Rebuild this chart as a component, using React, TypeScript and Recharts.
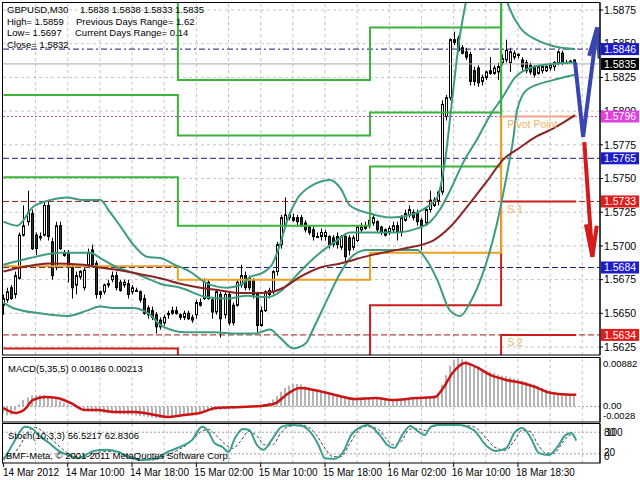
import React from 'react';
import { ComposedChart, Line, Bar, XAxis, YAxis, ReferenceLine, ReferenceDot } from 'recharts';

const FONT = '"Liberation Sans", Arial, sans-serif';

// ---------------- data ----------------
const timeLabels = ['14 Mar 2012', '14 Mar 10:00', '14 Mar 18:00', '15 Mar 02:00', '15 Mar 10:00', '15 Mar 18:00', '16 Mar 02:00', '16 Mar 10:00', '18 Mar 18:30'];
const timeLabelIdx = [0, 16, 32, 48, 64, 80, 96, 112, 128];
const gridIdx = [8, 16, 24, 32, 40, 48, 56, 64, 72, 80, 88, 96, 104, 112, 120, 128, 136, 144];
const priceTicks = [1.5625, 1.565, 1.5675, 1.57, 1.5725, 1.575, 1.5775, 1.58, 1.5825, 1.585, 1.5875];

const openP = [
  1.5656, 1.5660, 1.5669, 1.5664, 1.5676, 1.5708, 1.5718, 1.5724, 1.5708, 1.5706,
  1.5708, 1.5730, 1.5703, 1.5684, 1.5715, 1.5695, 1.5695, 1.5684, 1.5671, 1.5677,
  1.5669, 1.5686, 1.5697, 1.5687, 1.5664, 1.5666, 1.5671, 1.5675, 1.5678, 1.5673,
  1.5671, 1.5672, 1.5666, 1.5667, 1.5666, 1.5661, 1.5654, 1.5652, 1.5649, 1.5645,
  1.5643, 1.5649, 1.5652, 1.5650, 1.5649, 1.5647, 1.5650, 1.5647, 1.5649, 1.5656,
  1.5661, 1.5673, 1.5660, 1.5651, 1.5664, 1.5649, 1.5664, 1.5656, 1.5656, 1.5671,
  1.5678, 1.5676, 1.5675, 1.5664, 1.5641, 1.5652, 1.5664, 1.5666, 1.5681, 1.5701,
  1.5715, 1.5721, 1.5721, 1.5721, 1.5721, 1.5717, 1.5714, 1.5712, 1.5707, 1.5707,
  1.5707, 1.5707, 1.5706, 1.5707, 1.5699, 1.5707, 1.5706, 1.5699, 1.5704, 1.5712,
  1.5713, 1.5715, 1.5717, 1.5718, 1.5714, 1.5712, 1.5710, 1.5712, 1.5715, 1.5710,
  1.5719, 1.5723, 1.5725, 1.5724, 1.5719, 1.5717, 1.5727, 1.5730, 1.5733, 1.5740,
  1.5796, 1.5810, 1.5851, 1.5854, 1.5847, 1.5844, 1.5842, 1.5830, 1.5832, 1.5822,
  1.5825, 1.5828, 1.5828, 1.5829, 1.5836, 1.5838, 1.5836, 1.5840, 1.5842, 1.5838,
  1.5836, 1.5834, 1.5833, 1.5828, 1.5830, 1.5830, 1.5832, 1.5833, 1.5836, 1.5843,
  1.5836, 1.5837, 1.5838,
];
const highP = [
  1.5664, 1.5669, 1.5671, 1.5681, 1.5710, 1.5730, 1.5741, 1.5727, 1.5710, 1.5710,
  1.5733, 1.5734, 1.5706, 1.5718, 1.5718, 1.5697, 1.5697, 1.5686, 1.5681, 1.5682,
  1.5684, 1.5698, 1.5701, 1.5689, 1.5667, 1.5672, 1.5675, 1.5681, 1.5681, 1.5675,
  1.5675, 1.5675, 1.5671, 1.5669, 1.5667, 1.5664, 1.5656, 1.5655, 1.5651, 1.5647,
  1.5649, 1.5652, 1.5655, 1.5655, 1.5650, 1.5652, 1.5652, 1.5649, 1.5660, 1.5661,
  1.5676, 1.5675, 1.5661, 1.5667, 1.5666, 1.5666, 1.5666, 1.5658, 1.5675, 1.5686,
  1.5681, 1.5678, 1.5676, 1.5666, 1.5655, 1.5667, 1.5669, 1.5682, 1.5703, 1.5723,
  1.5736, 1.5725, 1.5724, 1.5723, 1.5723, 1.5719, 1.5715, 1.5714, 1.5710, 1.5713,
  1.5712, 1.5708, 1.5708, 1.5710, 1.5708, 1.5708, 1.5708, 1.5708, 1.5715, 1.5717,
  1.5718, 1.5721, 1.5723, 1.5719, 1.5715, 1.5713, 1.5715, 1.5718, 1.5718, 1.5723,
  1.5727, 1.5730, 1.5727, 1.5727, 1.5721, 1.5729, 1.5741, 1.5736, 1.5741, 1.5808,
  1.5812, 1.5854, 1.5859, 1.5856, 1.5849, 1.5847, 1.5844, 1.5833, 1.5834, 1.5827,
  1.5830, 1.5840, 1.5834, 1.5836, 1.5842, 1.5853, 1.5847, 1.5845, 1.5843, 1.5840,
  1.5838, 1.5836, 1.5834, 1.5834, 1.5834, 1.5834, 1.5836, 1.5837, 1.5845, 1.5845,
  1.5838, 1.5838, 1.5838,
];
const lowP = [
  1.5649, 1.5658, 1.5660, 1.5661, 1.5675, 1.5707, 1.5715, 1.5697, 1.5693, 1.5704,
  1.5707, 1.5704, 1.5675, 1.5682, 1.5697, 1.5692, 1.5673, 1.5661, 1.5664, 1.5675,
  1.5667, 1.5684, 1.5684, 1.5661, 1.5661, 1.5664, 1.5669, 1.5673, 1.5667, 1.5666,
  1.5669, 1.5661, 1.5664, 1.5666, 1.5658, 1.5649, 1.5646, 1.5645, 1.5635, 1.5638,
  1.5641, 1.5646, 1.5649, 1.5649, 1.5645, 1.5645, 1.5645, 1.5643, 1.5646, 1.5655,
  1.5660, 1.5660, 1.5646, 1.5649, 1.5632, 1.5646, 1.5641, 1.5641, 1.5655, 1.5669,
  1.5667, 1.5667, 1.5661, 1.5636, 1.5640, 1.5651, 1.5661, 1.5664, 1.5678, 1.5698,
  1.5714, 1.5719, 1.5718, 1.5715, 1.5714, 1.5710, 1.5708, 1.5704, 1.5706, 1.5704,
  1.5704, 1.5698, 1.5699, 1.5698, 1.5697, 1.5688, 1.5693, 1.5697, 1.5703, 1.5710,
  1.5712, 1.5713, 1.5715, 1.5710, 1.5708, 1.5707, 1.5708, 1.5710, 1.5704, 1.5707,
  1.5718, 1.5721, 1.5719, 1.5715, 1.5697, 1.5715, 1.5725, 1.5729, 1.5730, 1.5738,
  1.5793, 1.5808, 1.5849, 1.5844, 1.5842, 1.5838, 1.5819, 1.5819, 1.5818, 1.5819,
  1.5823, 1.5827, 1.5827, 1.5823, 1.5834, 1.5836, 1.5829, 1.5838, 1.5839, 1.5830,
  1.5828, 1.5827, 1.5825, 1.5827, 1.5828, 1.5829, 1.5830, 1.5830, 1.5834, 1.5834,
  1.5835, 1.5836, 1.5833,
];
const closeP = [
  1.5661, 1.5666, 1.5661, 1.5678, 1.5708, 1.5715, 1.5725, 1.5698, 1.5698, 1.5707,
  1.5730, 1.5707, 1.5678, 1.5715, 1.5698, 1.5693, 1.5684, 1.5669, 1.5678, 1.5681,
  1.5682, 1.5695, 1.5686, 1.5664, 1.5666, 1.5671, 1.5672, 1.5678, 1.5669, 1.5667,
  1.5673, 1.5664, 1.5669, 1.5667, 1.5660, 1.5650, 1.5649, 1.5647, 1.5640, 1.5640,
  1.5647, 1.5650, 1.5650, 1.5652, 1.5647, 1.5650, 1.5646, 1.5645, 1.5658, 1.5658,
  1.5673, 1.5661, 1.5651, 1.5666, 1.5646, 1.5664, 1.5643, 1.5643, 1.5673, 1.5678,
  1.5669, 1.5669, 1.5664, 1.5641, 1.5652, 1.5666, 1.5667, 1.5681, 1.5701, 1.5721,
  1.5723, 1.5723, 1.5719, 1.5718, 1.5715, 1.5712, 1.5710, 1.5707, 1.5707, 1.5710,
  1.5710, 1.5701, 1.5701, 1.5701, 1.5707, 1.5692, 1.5697, 1.5706, 1.5714, 1.5714,
  1.5715, 1.5719, 1.5721, 1.5712, 1.5710, 1.5708, 1.5713, 1.5715, 1.5710, 1.5721,
  1.5724, 1.5727, 1.5721, 1.5718, 1.5715, 1.5727, 1.5734, 1.5734, 1.5740, 1.5805,
  1.5810, 1.5853, 1.5853, 1.5845, 1.5843, 1.5840, 1.5822, 1.5822, 1.5821, 1.5825,
  1.5829, 1.5830, 1.5832, 1.5833, 1.5839, 1.5845, 1.5844, 1.5843, 1.5842, 1.5833,
  1.5830, 1.5829, 1.5827, 1.5833, 1.5833, 1.5833, 1.5834, 1.5836, 1.5844, 1.5836,
  1.5836, 1.5837, 1.5835,
];

// Bollinger bands (20,2) and moving average, read as [bar index, price]
const bbUpper: [number, number][] = [
  [0, 1.5718], [3.4, 1.5715], [7.4, 1.5729], [11.6, 1.5734], [15.8, 1.5736], [19.8, 1.5734], [24.1, 1.5734],
  [26.5, 1.5725], [29.0, 1.5715], [32.3, 1.5701], [35.7, 1.5692], [39.0, 1.5691], [42.7, 1.5686], [46.4, 1.5681],
  [50.7, 1.5672], [55.6, 1.5669], [58.9, 1.5671], [61.4, 1.5677], [64.4, 1.5680], [66.8, 1.5686], [68.8, 1.5701],
  [70.6, 1.5719], [73.1, 1.5735], [76.3, 1.5744], [81.3, 1.5749], [83.8, 1.5743], [86.2, 1.5730], [91.2, 1.5724],
  [96.2, 1.5721], [101.2, 1.5723], [105.4, 1.5729], [107.9, 1.5736], [109.9, 1.5764], [111.6, 1.5808],
  [113.4, 1.5853], [115.1, 1.5882], [118.6, 1.5942], [122.3, 1.5912], [124.8, 1.5886], [125.8, 1.5877],
  [128.5, 1.5862], [132.5, 1.5853], [137.2, 1.5848], [142.2, 1.5846],
];
const bbMiddle: [number, number][] = [
  [0, 1.5686], [6.6, 1.5691], [14.1, 1.5695], [21.6, 1.5695], [24.1, 1.5691], [28.3, 1.5684], [32.3, 1.5680],
  [36.5, 1.5675], [39.0, 1.5672], [44.0, 1.5669], [50.7, 1.5662], [55.6, 1.5661], [60.6, 1.5663], [65.6, 1.5662],
  [68.8, 1.5666], [71.3, 1.5673], [73.8, 1.5681], [78.8, 1.5695], [82.5, 1.5703], [86.2, 1.5710], [91.2, 1.5710],
  [97.9, 1.5710], [102.9, 1.5713], [106.2, 1.5718], [108.6, 1.5727], [111.1, 1.5741], [114.4, 1.5762],
  [117.8, 1.5779], [121.1, 1.5797], [124.1, 1.5810], [127.3, 1.5825], [131.0, 1.5832], [136.7, 1.5835], [142.2, 1.5836],
];
const bbLower: [number, number][] = [
  [0, 1.5658], [2.4, 1.5654], [9.1, 1.5650], [15.8, 1.5648], [20.8, 1.5652], [24.1, 1.5655], [27.3, 1.5654],
  [32.3, 1.5654], [36.5, 1.5649], [39.2, 1.5641], [45.0, 1.5636], [52.4, 1.5636], [58.1, 1.5635], [62.6, 1.5635],
  [66.3, 1.5638], [68.8, 1.5632], [72.1, 1.5624], [75.3, 1.5628], [77.0, 1.5638], [80.5, 1.5660], [83.8, 1.5680],
  [87.0, 1.5693], [90.5, 1.5697], [96.2, 1.5697], [102.9, 1.5697], [105.4, 1.5689], [107.9, 1.5675],
  [111.1, 1.5652], [113.6, 1.5648], [116.1, 1.5658], [119.3, 1.5680], [122.8, 1.5717], [125.3, 1.5754],
  [126.8, 1.5779], [127.8, 1.5801], [130.3, 1.5816], [136.7, 1.5823], [142.2, 1.5827],
];
const maLine: [number, number][] = [
  [0, 1.5681], [4.2, 1.5684], [11.6, 1.5687], [19.9, 1.5686], [24, 1.5684], [29, 1.5682], [34, 1.5679],
  [39, 1.5676], [44, 1.5672], [49, 1.5669], [54, 1.5667], [59, 1.5665], [63.9, 1.5665], [67, 1.5666],
  [69.6, 1.5669], [73.8, 1.5677], [78.8, 1.5684], [83.8, 1.5687], [91.2, 1.5693], [99.4, 1.5698],
  [106.9, 1.5704], [111.1, 1.5714], [116.1, 1.5732], [120.3, 1.5748], [124.3, 1.5764], [128.5, 1.5773],
  [132.5, 1.5781], [136.7, 1.5787], [142.2, 1.5797],
];

// daily pivot levels (day boundaries in bar index)
const dayBounds = [0, 43.4, 91.2, 123.8, 142.5];
const pivR3 = [1.5890, 1.5823, 1.5862, 1.5990];
const pivR2 = [1.5812, 1.5782, 1.5799, 1.5958];
const pivR1 = [1.5751, 1.5715, 1.5759, 1.5895];
const pivPP = [1.5685, 1.5675, 1.5695, 1.5796];
const pivS1 = [1.5624, 1.5608, 1.5656, 1.5733];
const pivS2 = [1.5560, 1.5540, 1.5592, 1.5634];
const pivotLabels = ['Pivot Point', 'S 1', 'S 2'];
const pivotLabelIdx = 125.3;

// horizontal price levels with right-axis boxes
const levelPrices = [1.5846, 1.5835, 1.5796, 1.5765, 1.5733, 1.5684, 1.5634];

// projection arrows
const blueArrow: [number, number][] = [[142.2, 1.5836], [144.2, 1.5781], [147.7, 1.5862]];
const blueHead: [number, number][] = [[145.7, 1.5841], [147.7, 1.5862], [148.3, 1.5839]];
const redArrow: [number, number][] = [[144.5, 1.5777], [146.5, 1.5692]];
const redHead: [number, number][] = [[144.9, 1.5716], [146.5, 1.5692], [147.6, 1.5715]];

// MACD(5,35,5)
const macdHist = [
  -0.0012, -0.0016, -0.0015, -0.0007, 0.0004, 0.0012, 0.0017, 0.0020, 0.0021, 0.0021,
  0.0021, 0.0019, 0.0016, 0.0014, 0.0010, 0.0007, 0.0004, 0.0001, -0.0002, -0.0005,
  -0.0007, -0.0008, -0.0009, -0.0010, -0.0011, -0.0012, -0.0012, -0.0012, -0.0013, -0.0014,
  -0.0014, -0.0015, -0.0015, -0.0016, -0.0017, -0.0018, -0.0019, -0.0020, -0.0021, -0.0021,
  -0.0021, -0.0020, -0.0019, -0.0018, -0.0018, -0.0017, -0.0015, -0.0014, -0.0012, -0.0010,
  -0.0008, -0.0007, -0.0007, -0.0006, -0.0006, -0.0005, -0.0005, -0.0004, -0.0002, 0.0000,
  0.0001, 0.0002, 0.0003, 0.0001, 0.0002, 0.0005, 0.0008, 0.0013, 0.0019, 0.0027,
  0.0034, 0.0038, 0.0041, 0.0041, 0.0040, 0.0037, 0.0035, 0.0032, 0.0030, 0.0027,
  0.0025, 0.0022, 0.0020, 0.0019, 0.0017, 0.0015, 0.0013, 0.0012, 0.0012, 0.0013,
  0.0014, 0.0015, 0.0016, 0.0015, 0.0014, 0.0013, 0.0012, 0.0012, 0.0012, 0.0013,
  0.0014, 0.0015, 0.0015, 0.0015, 0.0014, 0.0016, 0.0018, 0.0021, 0.0024, 0.0040,
  0.0057, 0.0074, 0.0085, 0.00882, 0.0086, 0.0083, 0.0078, 0.0074, 0.0071, 0.0068,
  0.0066, 0.0063, 0.0061, 0.0058, 0.0056, 0.0055, 0.0053, 0.0051, 0.0049, 0.0047,
  0.0045, 0.0042, 0.0040, 0.0037, 0.0034, 0.0031, 0.0028, 0.0026, 0.0024, 0.0022,
  0.0021, 0.0020, 0.00186,
];
const macdSignal: [number, number][] = [
  [0, -0.00025], [3.2, -0.00116], [5.1, -0.00062], [7.4, 0.0012], [10.4, 0.00174], [13.4, 0.00156],
  [16.8, 0.00065], [20.1, -0.00062], [23.6, -0.00062], [27.5, -0.00098], [32.8, -0.00098], [37.7, -0.00153],
  [40.7, -0.00189], [45.0, -0.00153], [48.9, -0.00116], [52.9, -0.00025], [59.1, -0.00007], [64.1, 0.00011],
  [67.8, 0.00065], [70.3, 0.00211], [73.8, 0.00338], [77.3, 0.00301], [82.5, 0.00211], [87.5, 0.00138],
  [92.7, 0.00156], [96.7, 0.0012], [102.7, 0.00156], [107.4, 0.00174], [109.4, 0.00338], [111.9, 0.00628],
  [114.9, 0.00792], [117.6, 0.00719], [121.1, 0.00574], [125.1, 0.00483], [129.0, 0.00429], [132.3, 0.00356],
  [135.2, 0.00265], [138.2, 0.00229], [142.5, 0.00213],
];
const macdTicks = [0.00882, 0, -0.0028];
const macdTickLabels = ['0.00882', '0.00', '-0.0028'];

// Stochastic(10,3,3)
const stochMain: [number, number][] = [
  [0, 3], [1.2, 25], [3.2, 64], [5.3, 95], [6.8, 92], [9.3, 67], [11.4, 50], [13.4, 31], [15.9, 17], [18.5, 8],
  [20.5, 17], [22.5, 28], [25.6, 31], [28.6, 25], [31.7, 8], [34.7, 3], [37.8, 6], [40.8, 25], [43.9, 39],
  [46.9, 58], [49.4, 95], [51, 81], [52.5, 50], [54.5, 39], [56.0, 25], [57.6, 64], [59.6, 89], [61.1, 86],
  [63.1, 44], [64.7, 31], [66.7, 58], [69.2, 95], [71.3, 100], [74.3, 97], [76.3, 81], [78.4, 44], [79.9, 8],
  [82.4, 6], [84.5, 25], [86.5, 72], [88.5, 92], [90.6, 100], [93.6, 72], [95.6, 44], [97.2, 36], [99.2, 72],
  [101.2, 97], [103.3, 81], [104.8, 72], [106.3, 95], [107.8, 100], [112.9, 100], [117.0, 86], [120.0, 44],
  [122.5, 28], [125.1, 36], [127.1, 78], [129.1, 92], [131.2, 64], [133.2, 22], [135.7, 17], [137.8, 39],
  [139.8, 72], [141.3, 78], [142.5, 56.52],
];
const stochSignal: [number, number][] = [
  [0, 10], [2, 15], [4, 40], [6, 80], [8, 93], [10, 80], [12, 60], [14, 40], [16, 22], [18, 12], [20, 10],
  [22, 18], [25, 26], [28, 26], [31, 15], [34, 5], [37, 3], [40, 12], [43, 28], [46, 48], [49, 80], [51, 88],
  [53, 70], [55, 48], [57, 35], [59, 55], [61, 82], [63, 70], [65, 45], [67, 45], [69, 78], [71, 96], [74, 100],
  [76, 93], [78, 70], [80, 35], [82, 12], [84, 12], [86, 45], [88, 80], [90, 96], [93, 90], [95, 65], [97, 45],
  [99, 55], [101, 88], [103, 90], [105, 85], [107, 96], [110, 100], [113, 100], [117, 95], [120, 65], [122, 40],
  [125, 30], [127, 55], [129, 85], [131, 82], [133, 45], [135, 22], [137, 22], [139, 50], [141, 72], [142.5, 62.83],
];
const stochLevels = [80, 20];

// ---------------- layout / style ----------------
const X_DOMAIN: [number, number] = [-0.1, 148.4];
const MAIN_Y: [number, number] = [1.56191, 1.58802];
const MACD_Y: [number, number] = [-0.0028, 0.00882];
const STOCH_Y: [number, number] = [-5.5, 102.8];
const GRID = '#c4c4c4';
const TEAL = '#3d9c80';
const levelStyles = [
  { stroke: '#1a1a80', dash: '6 3 2 3', bg: '#1c1cc8' },
  { stroke: '#a8a8a8', dash: undefined, bg: '#000000' },
  { stroke: '#cc44cc', dash: '2 2', bg: '#e040e0' },
  { stroke: '#1a1a80', dash: '6 3', bg: '#1c1cc8' },
  { stroke: '#a01818', dash: '6 3', bg: '#e01c1c' },
  { stroke: '#1a1a80', dash: '6 3', bg: '#1c1cc8' },
  { stroke: '#a01818', dash: '6 3', bg: '#e01c1c' },
];

const candles = openP.map((o, i) => ({ i, o, h: highP[i], l: lowP[i], c: closeP[i], range: [lowP[i], highP[i]] }));
const histData = macdHist.map((v, i) => ({ i, v }));
const pts = (arr: [number, number][]) => arr.map(([i, v]) => ({ i, v }));
const stepPts = (levels: number[]) => {
  const out: { i: number; v: number }[] = [];
  levels.forEach((lv, d) => {
    out.push({ i: dayBounds[d], v: lv });
    out.push({ i: dayBounds[d + 1], v: lv });
  });
  return out;
};
const ppSteps = stepPts(pivPP);
const ppOrange = ppSteps.slice(0, ppSteps.length - 1);
const ppToday = ppSteps.slice(ppSteps.length - 2);

function Candle(props: any) {
  const { x, y, width, height, payload } = props;
  if (!payload || x == null || y == null) return null;
  const cx = Math.round(x + width / 2) + 0.5;
  const { o, h, l, c } = payload;
  const span = h - l || 1e-9;
  const py = (p: number) => y + ((h - p) / span) * height;
  const yo = py(o);
  const yc = py(c);
  const top = Math.min(yo, yc);
  const bh = Math.max(Math.abs(yo - yc), 1);
  const bull = c >= o;
  return (
    <g>
      <line x1={cx} x2={cx} y1={y} y2={y + height} stroke="#000" strokeWidth={1} />
      <rect x={cx - 1} y={top} width={2} height={bh} fill={bull ? '#ffffff' : '#1f3a1f'} stroke="#000" strokeWidth={1} />
    </g>
  );
}

function HistBar(props: any) {
  const { x, y, width, height } = props;
  if (x == null || y == null) return null;
  const cx = Math.round(x + width / 2);
  const top = Math.min(y, y + height);
  return <rect x={cx - 1} y={top} width={2} height={Math.max(Math.abs(height), 0.5)} fill="#b4b4b4" />;
}

function PriceBox(props: any) {
  const { viewBox, text, bg } = props;
  if (!viewBox) return null;
  const x = viewBox.x + viewBox.width;
  const y = viewBox.y;
  return (
    <g>
      <rect x={x + 1} y={y - 6} width={38} height={12} fill={bg} />
      <text x={x + 4} y={y} dy="0.36em" fontSize={10.5} fontFamily={FONT} fill="#ffffff">{text}</text>
    </g>
  );
}

function PivotText(props: any) {
  const { viewBox, text, dy } = props;
  if (!viewBox) return null;
  const cx = viewBox.x + viewBox.width / 2;
  const cy = viewBox.y + viewBox.height / 2;
  return (
    <text x={cx} y={cy + dy} fontSize={10.5} fontFamily={FONT} fill="#f0b468">{text}</text>
  );
}

function MacdTick(props: any) {
  const { x, y, payload } = props;
  const k = macdTicks.indexOf(payload.value);
  const dy = k === 0 ? 6 : k === 2 ? -6 : -1;
  return <text x={x - 1} y={y + dy} dy="0.35em" fontSize={9.5} fontFamily={FONT} fill="#000">{macdTickLabels[k]}</text>;
}

function StochTick(props: any) {
  const { x, y, payload } = props;
  const common = { fontSize: 10, fontFamily: FONT, fill: '#000' } as any;
  if (payload.value === 80) {
    return (
      <g>
        <text x={x} y={y} dy="0.35em" {...common}>80</text>
        <text x={x + 2} y={y} dy="0.35em" {...common}>100</text>
      </g>
    );
  }
  return (
    <g>
      <text x={x} y={y - 1} dy="0.35em" {...common}>20</text>
      <text x={x} y={y + 3} dy="0.35em" {...common}>0</text>
    </g>
  );
}

function TimeTick(props: any) {
  const { x, y, payload } = props;
  const k = timeLabelIdx.indexOf(payload.value);
  return (
    <g>
      <line x1={x} x2={x} y1={y} y2={y + 4} stroke="#000" />
      <text x={Math.max(x - 2, 3)} y={y + 13} fontSize={10} fontFamily={FONT} fill="#000">{timeLabels[k]}</text>
    </g>
  );
}

const hiddenX = { type: 'number' as const, dataKey: 'i', domain: X_DOMAIN, allowDataOverflow: true, hide: true };
const lineBase = { dataKey: 'v', dot: false, activeDot: false, isAnimationActive: false, type: 'linear' as const };

const abs = (top: number): React.CSSProperties => ({ position: 'absolute', left: 0, top });

export default function App() {
  return (
    <div style={{ position: 'absolute', left: 0, top: 0, width: 640, height: 480, background: '#ffffff', overflow: 'hidden' }}>
      {/* ---------- main window: grid + price scale ---------- */}
      <div style={abs(0)}>
        <ComposedChart width={640} height={355} data={candles} margin={{ top: 3, right: 0, bottom: 0, left: 3 }}>
          <XAxis {...hiddenX} />
          <YAxis orientation="right" type="number" domain={MAIN_Y} allowDataOverflow ticks={priceTicks} interval={0}
            width={40} tickSize={3} tickMargin={1} tick={{ fontSize: 10.5, fill: '#000', fontFamily: FONT }}
            tickFormatter={(v: number) => v.toFixed(4)} axisLine={{ stroke: '#000' }} tickLine={{ stroke: '#000' }} />
          {gridIdx.map((g) => <ReferenceLine key={'gx' + g} x={g} stroke={GRID} strokeDasharray="3 3" />)}
          {priceTicks.map((p) => <ReferenceLine key={'gy' + p} y={p} stroke={GRID} strokeDasharray="3 3" />)}
        </ComposedChart>
      </div>
      {/* ---------- candles ---------- */}
      <div style={abs(0)}>
        <ComposedChart width={640} height={355} data={candles} margin={{ top: 3, right: 40, bottom: 0, left: 3 }}>
          <XAxis {...hiddenX} />
          <YAxis type="number" domain={MAIN_Y} allowDataOverflow hide />
          <Bar dataKey="range" shape={Candle} barSize={4} isAnimationActive={false} />
        </ComposedChart>
      </div>
      {/* ---------- indicators, pivots, levels ---------- */}
      <div style={abs(0)}>
        <ComposedChart width={640} height={355} margin={{ top: 3, right: 40, bottom: 0, left: 3 }}>
          <XAxis {...hiddenX} />
          <YAxis type="number" domain={MAIN_Y} allowDataOverflow hide />
          {levelPrices.map((p, k) => (
            <ReferenceLine key={'lv' + k} y={p} stroke={levelStyles[k].stroke} strokeDasharray={levelStyles[k].dash}
              strokeWidth={1} label={<PriceBox text={p.toFixed(4)} bg={levelStyles[k].bg} />} />
          ))}
          <Line {...lineBase} data={stepPts(pivR3)} stroke="#3cb43c" strokeWidth={2} />
          <Line {...lineBase} data={stepPts(pivR2)} stroke="#3cb43c" strokeWidth={2} />
          <Line {...lineBase} data={stepPts(pivR1)} stroke="#3cb43c" strokeWidth={2} />
          <Line {...lineBase} data={stepPts(pivS2)} stroke="#cc1e1e" strokeWidth={2} />
          <Line {...lineBase} data={stepPts(pivS1)} stroke="#cc1e1e" strokeWidth={2} />
          <Line {...lineBase} data={ppOrange} stroke="#f0a020" strokeWidth={2} />
          <Line {...lineBase} data={ppToday} stroke="#f4a088" strokeWidth={2} />
          <Line {...lineBase} data={pts(bbUpper)} type="monotone" stroke={TEAL} strokeWidth={2} />
          <Line {...lineBase} data={pts(bbMiddle)} type="monotone" stroke={TEAL} strokeWidth={2} />
          <Line {...lineBase} data={pts(bbLower)} type="monotone" stroke={TEAL} strokeWidth={2} />
          <Line {...lineBase} data={pts(maLine)} type="monotone" stroke="#8a2424" strokeWidth={2} />
          <Line {...lineBase} data={pts(blueArrow)} stroke="#3a46b0" strokeWidth={4} />
          <Line {...lineBase} data={pts(blueHead)} stroke="#3a46b0" strokeWidth={4} />
          <Line {...lineBase} data={pts(redArrow)} stroke="#d41a1a" strokeWidth={4} />
          <Line {...lineBase} data={pts(redHead)} stroke="#d41a1a" strokeWidth={4} />
          <ReferenceDot x={pivotLabelIdx} y={pivPP[3]} r={1} fill="none" stroke="none" label={<PivotText text={pivotLabels[0]} dy={11} />} />
          <ReferenceDot x={pivotLabelIdx} y={pivS1[3]} r={1} fill="none" stroke="none" label={<PivotText text={pivotLabels[1]} dy={12} />} />
          <ReferenceDot x={pivotLabelIdx} y={pivS2[3]} r={1} fill="none" stroke="none" label={<PivotText text={pivotLabels[2]} dy={11} />} />
        </ComposedChart>
      </div>

      {/* ---------- MACD window ---------- */}
      <div style={abs(358)}>
        <ComposedChart width={640} height={64} data={histData} margin={{ top: 0, right: 0, bottom: 0, left: 3 }}>
          <XAxis {...hiddenX} />
          <YAxis orientation="right" type="number" domain={MACD_Y} allowDataOverflow ticks={macdTicks} interval={0}
            width={40} tickSize={3} tickMargin={1} tick={MacdTick} axisLine={{ stroke: '#000' }} tickLine={false} />
          {gridIdx.map((g) => <ReferenceLine key={'mx' + g} x={g} stroke={GRID} strokeDasharray="3 3" />)}
          <ReferenceLine y={0} stroke="#a0a0a0" strokeDasharray="2 2" />
        </ComposedChart>
      </div>
      <div style={abs(358)}>
        <ComposedChart width={640} height={64} data={histData} margin={{ top: 0, right: 40, bottom: 0, left: 3 }}>
          <XAxis {...hiddenX} />
          <YAxis type="number" domain={MACD_Y} allowDataOverflow hide />
          <Bar dataKey="v" shape={HistBar} barSize={2} isAnimationActive={false} />
        </ComposedChart>
      </div>
      <div style={abs(358)}>
        <ComposedChart width={640} height={64} margin={{ top: 0, right: 40, bottom: 0, left: 3 }}>
          <XAxis {...hiddenX} />
          <YAxis type="number" domain={MACD_Y} allowDataOverflow hide />
          <Line {...lineBase} data={pts(macdSignal)} type="monotone" stroke="#cc1414" strokeWidth={2.5} />
        </ComposedChart>
      </div>

      {/* ---------- Stochastic window + time axis ---------- */}
      <div style={abs(424)}>
        <ComposedChart width={640} height={56} data={histData} margin={{ top: 0, right: 0, bottom: 0, left: 3 }}>
          <XAxis type="number" dataKey="i" domain={X_DOMAIN} allowDataOverflow ticks={timeLabelIdx} interval={0}
            height={17} tickSize={0} tickMargin={0} axisLine={false} tickLine={false} tick={TimeTick} />
          <YAxis orientation="right" type="number" domain={STOCH_Y} allowDataOverflow ticks={stochLevels} interval={0}
            width={40} tickSize={3} tickMargin={1} tick={StochTick} axisLine={{ stroke: '#000' }} tickLine={false} />
          {gridIdx.map((g) => <ReferenceLine key={'sx' + g} x={g} stroke={GRID} strokeDasharray="3 3" />)}
          {stochLevels.map((lv) => <ReferenceLine key={'sl' + lv} y={lv} stroke="#a0a0a0" strokeDasharray="2 2" />)}
        </ComposedChart>
      </div>
      <div style={abs(424)}>
        <ComposedChart width={640} height={56} margin={{ top: 0, right: 40, bottom: 17, left: 3 }}>
          <XAxis {...hiddenX} />
          <YAxis type="number" domain={STOCH_Y} allowDataOverflow hide />
          <Line {...lineBase} data={pts(stochSignal)} type="monotone" stroke="#444444" strokeWidth={1} strokeDasharray="3 2" />
          <Line {...lineBase} data={pts(stochMain)} type="monotone" stroke="#3a9d8f" strokeWidth={2} />
        </ComposedChart>
      </div>

      {/* ---------- frames and window texts ---------- */}
      <svg width={640} height={480} style={{ position: 'absolute', left: 0, top: 0, pointerEvents: 'none' }}>
        <rect x={2.5} y={2.5} width={597.5} height={352.5} fill="none" stroke="#000" />
        <rect x={2.5} y={357.5} width={597.5} height={64.5} fill="none" stroke="#000" />
        <rect x={2.5} y={423.5} width={597.5} height={39.5} fill="none" stroke="#000" />
        <g fontFamily={FONT} fontSize={9.5} fill="#000">
          <text x={7} y={13}>GBPUSD,M30</text>
          <text x={80} y={13}>1.5838 1.5838 1.5833 1.5835</text>
          <text x={7} y={24.5}>High= 1.5859</text>
          <text x={76} y={24.5}>Previous Days Range= 1.62</text>
          <text x={7} y={36}>Low= 1.5697</text>
          <text x={75} y={36}>Current Days Range= 0.14</text>
          <text x={7} y={47.5}>Close= 1.5832</text>
          <text x={8} y={371.5}>MACD(5,35,5) 0.00186 0.00213</text>
          <text x={8} y={438.5}>Stoch(10,3,3) 56.5217 62.8306</text>
          <text x={6} y={458.5}>BMF-Meta, © 2001-2011 MetaQuotes Software Corp.</text>
        </g>
      </svg>
    </div>
  );
}
